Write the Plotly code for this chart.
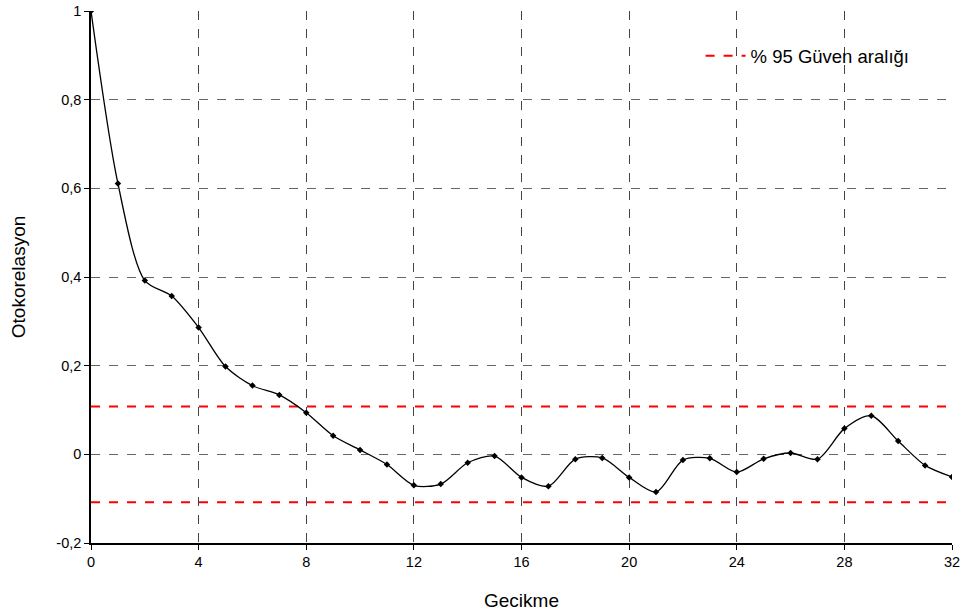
import plotly.graph_objects as go

lags = list(range(33))
acf = [1.0, 0.611, 0.392, 0.357, 0.286, 0.198, 0.155, 0.134, 0.094, 0.042,
       0.010, -0.023, -0.070, -0.067, -0.019, -0.004, -0.052, -0.072, -0.011, -0.008,
       -0.052, -0.085, -0.013, -0.009, -0.040, -0.010, 0.003, -0.011, 0.058, 0.087,
       0.030, -0.025, -0.051]
conf_limit = 0.108
conf_x = [0, 32]
x_ticks = [0, 4, 8, 12, 16, 20, 24, 28, 32]
y_ticks = [-0.2, 0, 0.2, 0.4, 0.6, 0.8, 1]
y_ticktext = ["-0,2", "0", "0,2", "0,4", "0,6", "0,8", "1"]

fig = go.Figure()
fig.add_trace(go.Scatter(
    x=conf_x, y=[conf_limit, conf_limit], mode="lines",
    line=dict(color="#ff0000", width=2, dash="dash"),
    name="% 95 Güven aralığı", showlegend=True))
fig.add_trace(go.Scatter(
    x=conf_x, y=[-conf_limit, -conf_limit], mode="lines",
    line=dict(color="#ff0000", width=2, dash="dash"),
    showlegend=False))
fig.add_trace(go.Scatter(
    x=lags, y=acf, mode="lines+markers",
    line=dict(color="black", width=1.3, shape="spline", smoothing=0.8),
    marker=dict(symbol="diamond", size=5, color="black"),
    showlegend=False))

fig.update_layout(
    width=969, height=616,
    margin=dict(l=91, r=17, t=11, b=73, autoexpand=False),
    paper_bgcolor="white", plot_bgcolor="white",
    font=dict(family="Liberation Sans, Arial, sans-serif", size=14.5, color="black"),
    legend=dict(x=0.708, y=0.915, xanchor="left", yanchor="middle", itemwidth=40,
                bgcolor="rgba(0,0,0,0)", font=dict(size=18.5)),
    xaxis=dict(range=[0, 32], tickvals=x_ticks, ticks="outside", ticklen=5,
               tickcolor="black", showline=True, linecolor="black", linewidth=1.5,
               showgrid=True, gridcolor="#444", griddash="dash", gridwidth=1,
               zeroline=False, automargin=False, tickfont=dict(size=14.5),
               title=dict(text="Gecikme", font=dict(size=19), standoff=25)),
    yaxis=dict(range=[-0.2, 1], tickvals=y_ticks, ticktext=y_ticktext, ticks="outside",
               ticklen=5, tickcolor="black", showline=True, linecolor="black", linewidth=1.5,
               showgrid=True, gridcolor="#666", griddash="dash", gridwidth=1,
               zeroline=False, automargin=False, tickfont=dict(size=14.5),
               title=dict(text="Otokorelasyon", font=dict(size=19), standoff=26)),
)
fig.write_html("out.html", config={"displayModeBar": False},
               post_script="document.body.style.margin='0';document.body.style.overflow='hidden';")
